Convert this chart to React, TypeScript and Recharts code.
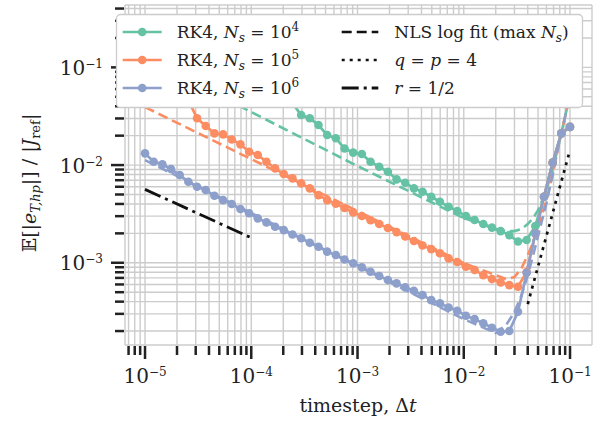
import React from 'react';
import { LineChart, Line, XAxis, YAxis, CartesianGrid } from 'recharts';

const FONT = "'DejaVu Serif', serif";
const INK = '#222222';

const GREEN = '#66c2a5';
const ORANGE = '#fc8d62';
const BLUE = '#8da0cb';

// timestep grid (50 log-spaced steps between 1e-5 and 1e-1)
const dt = [
  1.0e-5, 1.2068e-5, 1.4563e-5, 1.7575e-5, 2.121e-5, 2.5595e-5, 3.0888e-5, 3.7276e-5, 4.4984e-5, 5.4287e-5,
  6.5513e-5, 7.906e-5, 9.541e-5, 1.1514e-4, 1.3895e-4, 1.6768e-4, 2.0236e-4, 2.4421e-4, 2.9471e-4, 3.5565e-4,
  4.2919e-4, 5.1795e-4, 6.2506e-4, 7.5431e-4, 9.103e-4, 1.0985e-3, 1.3257e-3, 1.5999e-3, 1.9307e-3, 2.33e-3,
  2.8118e-3, 3.3932e-3, 4.0949e-3, 4.9417e-3, 5.9636e-3, 7.1969e-3, 8.6851e-3, 1.0481e-2, 1.2649e-2, 1.5264e-2,
  1.8421e-2, 2.223e-2, 2.6827e-2, 3.2375e-2, 3.9069e-2, 4.7149e-2, 5.6899e-2, 6.8665e-2, 8.2864e-2, 1.0e-1,
];

// RK4 error, Ns = 1e4
const errNs4 = [
  0.21, 0.19, 0.175, 0.16, 0.145, 0.13, 0.12, 0.11, 0.1, 0.092,
  0.084, 0.076, 0.07, 0.063, 0.058, 0.052, 0.048, 0.0431, 0.0325, 0.0301,
  0.0257, 0.0203, 0.0188, 0.0148, 0.0134, 0.013, 0.0108, 0.00961, 0.00854, 0.00714,
  0.00659, 0.00578, 0.00533, 0.00474, 0.00421, 0.00374, 0.00338, 0.00301, 0.00274, 0.00249,
  0.00229, 0.00211, 0.00192, 0.00165, 0.00171, 0.00238, 0.00474, 0.0106, 0.0211, 0.0246,
];

// RK4 error, Ns = 1e5
const errNs5 = [
  0.115, 0.095, 0.08, 0.065, 0.055, 0.0463, 0.0301, 0.0251, 0.0211, 0.0206,
  0.0183, 0.0163, 0.0137, 0.0127, 0.0108, 0.00925, 0.00809, 0.00731, 0.0065, 0.00578,
  0.00493, 0.00438, 0.00402, 0.00363, 0.00327, 0.00301, 0.00272, 0.00249, 0.00227, 0.00206,
  0.00186, 0.00167, 0.0015, 0.00138, 0.00125, 0.00111, 0.00102, 0.00091, 0.000842, 0.000748,
  0.000681, 0.00063, 0.000591, 0.000568, 0.000804, 0.002, 0.00474, 0.0106, 0.0211, 0.0246,
];

// RK4 error, Ns = 1e6
const errNs6 = [
  0.01318, 0.0108, 0.0102, 0.0091, 0.0079, 0.00675, 0.006, 0.00555, 0.00485, 0.00438,
  0.00399, 0.00355, 0.00321, 0.00285, 0.00259, 0.00234, 0.00216, 0.00195, 0.00178, 0.0016,
  0.00146, 0.0013, 0.0012, 0.00108, 0.000987, 0.000898, 0.000809, 0.000731, 0.000665, 0.000615,
  0.00056, 0.000517, 0.000467, 0.000415, 0.000384, 0.000349, 0.000323, 0.000287, 0.000265, 0.00024,
  0.000216, 0.000197, 0.0002, 0.000315, 0.000791, 0.002, 0.00474, 0.0106, 0.0211, 0.0246,
];

// NLS log fit curves
const fitDt = [1e-5, 1e-4, 1e-3, 1e-2, 0.02, 0.025, 0.03, 0.035, 0.04, 0.045, 0.05, 0.06, 0.07, 0.08, 0.1];
const fitNs4 = [0.1245, 0.0349, 0.00977, 0.00287, 0.00221, 0.00211, 0.00211, 0.00221, 0.00249, 0.00287, 0.00346, 0.00555, 0.00977, 0.018, 0.0521];
const fitNs5 = [0.0392, 0.0115, 0.00338, 0.000993, 0.000748, 0.000681, 0.000714, 0.000882, 0.0012, 0.00163, 0.00227, 0.00438, 0.00889, 0.018, 0.0521];
const fitNs6 = [0.01125, 0.00323, 0.000925, 0.000265, 0.000191, 0.00023, 0.000313, 0.000467, 0.000748, 0.0012, 0.00188, 0.00408, 0.00889, 0.018, 0.0521];

// reference slopes
const slopeQDt = [0.04, 0.1];
const slopeQ = [3.78e-4, 1.43e-2];
const slopeRDt = [1e-5, 1e-4];
const slopeR = [5.64e-3, 1.8e-3];

const xTicks = [
  7e-6, 8e-6, 9e-6,
  1e-5, 2e-5, 3e-5, 4e-5, 5e-5, 6e-5, 7e-5, 8e-5, 9e-5,
  1e-4, 2e-4, 3e-4, 4e-4, 5e-4, 6e-4, 7e-4, 8e-4, 9e-4,
  1e-3, 2e-3, 3e-3, 4e-3, 5e-3, 6e-3, 7e-3, 8e-3, 9e-3,
  1e-2, 2e-2, 3e-2, 4e-2, 5e-2, 6e-2, 7e-2, 8e-2, 9e-2,
  1e-1,
];
const xMajor = [1e-5, 1e-4, 1e-3, 1e-2, 1e-1];
const xMajorExp = ['−5', '−4', '−3', '−2', '−1'];

const yTicks = [
  2e-4, 3e-4, 4e-4, 5e-4, 6e-4, 7e-4, 8e-4, 9e-4,
  1e-3, 2e-3, 3e-3, 4e-3, 5e-3, 6e-3, 7e-3, 8e-3, 9e-3,
  1e-2, 2e-2, 3e-2, 4e-2, 5e-2, 6e-2, 7e-2, 8e-2, 9e-2,
  1e-1, 2e-1, 3e-1, 4e-1,
];
const yMajor = [1e-3, 1e-2, 1e-1];
const yMajorExp = ['−3', '−2', '−1'];

const pts = (xs: number[], ys: number[]) => xs.map((x, i) => ({ x, y: ys[i] }));

const majorIndex = (list: number[], v: number) =>
  list.findIndex((m) => Math.abs(m - v) / m < 1e-6);

const XTick = (props: any) => {
  const { x, y, payload } = props;
  const k = majorIndex(xMajor, payload.value);
  const major = k >= 0;
  return (
    <g>
      <line x1={x} x2={x} y1={y + 1} y2={y + (major ? 14 : 10)} stroke={INK} strokeWidth={2.5} />
      {major && (
        <text x={x} y={y + 38} textAnchor="middle" fontFamily={FONT} fontSize={20} fill={INK}>
          10<tspan dy={-7} fontSize={12}>{xMajorExp[k]}</tspan>
        </text>
      )}
    </g>
  );
};

const YTick = (props: any) => {
  const { x, y, payload } = props;
  const k = majorIndex(yMajor, payload.value);
  const major = k >= 0;
  return (
    <g>
      <line x1={x - 1} x2={x - (major ? 14 : 10)} y1={y} y2={y} stroke={INK} strokeWidth={2.5} />
      {major && (
        <text x={x - 22} y={y + 7.5} textAnchor="end" fontFamily={FONT} fontSize={20} fill={INK}>
          10<tspan dy={-7} fontSize={12}>{yMajorExp[k]}</tspan>
        </text>
      )}
    </g>
  );
};

const dotStyle = (c: string) => ({ r: 4.3, fill: c, stroke: c, strokeWidth: 0 });

const legendRows = [32, 60, 88];

const App: React.FC = () => {
  return (
    <div style={{ position: 'absolute', left: 0, top: 0, width: 600, height: 422, background: '#fff' }}>
      <LineChart width={600} height={422} margin={{ top: 5, right: 8, bottom: 0, left: 0 }}>
        <CartesianGrid stroke="#cccccc" strokeWidth={1.4} />
        <XAxis
          dataKey="x"
          type="number"
          scale="log"
          domain={[6.48e-6, 0.161]}
          allowDataOverflow
          ticks={xTicks}
          interval={0}
          tick={<XTick />}
          tickLine={false}
          axisLine={false}
          tickSize={0}
          tickMargin={0}
          height={77}
        />
        <YAxis
          type="number"
          scale="log"
          domain={[1.44e-4, 0.435]}
          allowDataOverflow
          ticks={yTicks}
          interval={0}
          tick={<YTick />}
          tickLine={false}
          axisLine={false}
          tickSize={0}
          tickMargin={0}
          width={125}
        />
        {/* NLS fits */}
        <Line data={pts(fitDt, fitNs4)} dataKey="y" stroke={GREEN} strokeWidth={2.6} strokeDasharray="10 5" dot={false} activeDot={false} isAnimationActive={false} />
        <Line data={pts(fitDt, fitNs5)} dataKey="y" stroke={ORANGE} strokeWidth={2.6} strokeDasharray="10 5" dot={false} activeDot={false} isAnimationActive={false} />
        <Line data={pts(fitDt, fitNs6)} dataKey="y" stroke={BLUE} strokeWidth={2.6} strokeDasharray="10 5" dot={false} activeDot={false} isAnimationActive={false} />
        {/* RK4 data */}
        <Line data={pts(dt, errNs4)} dataKey="y" stroke={GREEN} strokeWidth={2.7} dot={dotStyle(GREEN)} activeDot={false} isAnimationActive={false} />
        <Line data={pts(dt, errNs5)} dataKey="y" stroke={ORANGE} strokeWidth={2.7} dot={dotStyle(ORANGE)} activeDot={false} isAnimationActive={false} />
        <Line data={pts(dt, errNs6)} dataKey="y" stroke={BLUE} strokeWidth={2.7} dot={dotStyle(BLUE)} activeDot={false} isAnimationActive={false} />
        {/* reference slopes */}
        <Line data={pts(slopeQDt, slopeQ)} dataKey="y" stroke="#111" strokeWidth={2.7} strokeDasharray="3 5" dot={false} activeDot={false} isAnimationActive={false} />
        <Line data={pts(slopeRDt, slopeR)} dataKey="y" stroke="#111" strokeWidth={2.8} strokeDasharray="17 5 3 5" dot={false} activeDot={false} isAnimationActive={false} />
      </LineChart>

      <svg width={600} height={422} style={{ position: 'absolute', left: 0, top: 0, pointerEvents: 'none' }}>
        {/* axis labels */}
        <text x={358} y={412} textAnchor="middle" fontFamily={FONT} fontSize={19} fill={INK}>
          timestep, Δ<tspan fontStyle="italic">t</tspan>
        </text>
        <text
          transform="translate(36,183) rotate(-90)"
          textAnchor="middle"
          fontFamily={FONT}
          fontSize={19}
          fill={INK}
        >
          𝔼[|<tspan fontStyle="italic">e</tspan>
          <tspan fontStyle="italic" fontSize={13} dy={4}>T,hp</tspan>
          <tspan dy={-4}>|] / |</tspan>
          <tspan fontStyle="italic">J</tspan>
          <tspan fontSize={13} dy={4}>ref</tspan>
          <tspan dy={-4}>|</tspan>
        </text>

        {/* legend */}
        <rect x={116.5} y={14.5} width={466} height={93} rx={4} fill="#fff" stroke="#cccccc" strokeWidth={1.3} />
        {[GREEN, ORANGE, BLUE].map((c, i) => (
          <g key={c}>
            <line x1={122.7} x2={161.7} y1={legendRows[i]} y2={legendRows[i]} stroke={c} strokeWidth={2.7} />
            <circle cx={142.2} cy={legendRows[i]} r={4.3} fill={c} />
            <text x={176.7} y={legendRows[i] + 6} fontFamily={FONT} fontSize={17} fill={INK}>
              RK4, <tspan fontStyle="italic">N</tspan>
              <tspan fontStyle="italic" fontSize={12} dy={4}>s</tspan>
              <tspan dy={-4}> = 10</tspan>
              <tspan fontSize={12} dy={-7}>{String(4 + i)}</tspan>
            </text>
          </g>
        ))}
        <line x1={341.7} x2={378.3} y1={legendRows[0]} y2={legendRows[0]} stroke="#111" strokeWidth={2.6} strokeDasharray="10 5" />
        <text x={394.3} y={legendRows[0] + 6} fontFamily={FONT} fontSize={17} fill={INK}>
          NLS log fit (max <tspan fontStyle="italic">N</tspan>
          <tspan fontStyle="italic" fontSize={12} dy={4}>s</tspan>
          <tspan dy={-4}>)</tspan>
        </text>
        <line x1={341.7} x2={378.3} y1={legendRows[1]} y2={legendRows[1]} stroke="#111" strokeWidth={2.7} strokeDasharray="3 5" />
        <text x={394.3} y={legendRows[1] + 6} fontFamily={FONT} fontSize={17} fill={INK}>
          <tspan fontStyle="italic">q</tspan> = <tspan fontStyle="italic">p</tspan> = 4
        </text>
        <line x1={341.7} x2={378.3} y1={legendRows[2]} y2={legendRows[2]} stroke="#111" strokeWidth={2.8} strokeDasharray="17 5 3 5" />
        <text x={394.3} y={legendRows[2] + 6} fontFamily={FONT} fontSize={17} fill={INK}>
          <tspan fontStyle="italic">r</tspan> = 1/2
        </text>
      </svg>
    </div>
  );
};

export default App;
